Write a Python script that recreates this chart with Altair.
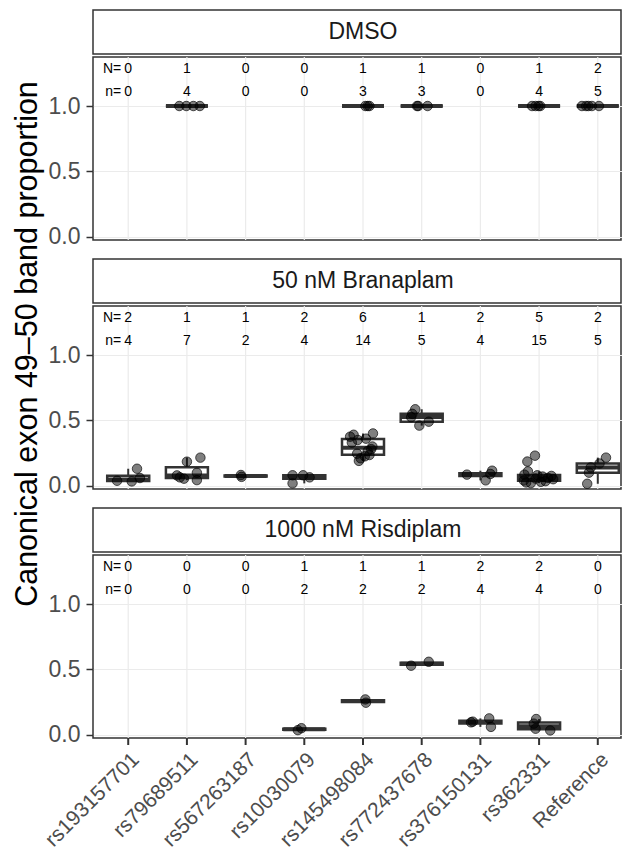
import altair as alt
import pandas as pd

# ---------------- data ----------------
cats = ["rs193157701", "rs79689511", "rs567263187", "rs10030079", "rs145498084",
        "rs772437678", "rs376150131", "rs362331", "Reference"]
treatments = ["DMSO", "50 nM Branaplam", "1000 nM Risdiplam"]

dmso_N = [0, 1, 0, 0, 1, 1, 0, 1, 2]
dmso_n = [0, 4, 0, 0, 3, 3, 0, 4, 5]
bran_N = [2, 1, 1, 2, 6, 1, 2, 5, 2]
bran_n = [4, 7, 2, 4, 14, 5, 4, 15, 5]
risd_N = [0, 0, 0, 1, 1, 1, 2, 2, 0]
risd_n = [0, 0, 0, 2, 2, 2, 4, 4, 0]

dmso_var = (["rs79689511"] * 4 + ["rs145498084"] * 3 + ["rs772437678"] * 3
            + ["rs362331"] * 4 + ["Reference"] * 5)
dmso_val = [1.0] * 19
dmso_jit = [-0.13, -0.01, 0.11, 0.22,
            0.04, 0.08, 0.11,
            -0.08, -0.06, 0.10,
            -0.12, -0.06, -0.01, 0.02,
            -0.27, -0.20, -0.16, -0.10, 0.02]

bran_var = (["rs193157701"] * 4 + ["rs79689511"] * 7 + ["rs567263187"] * 2
            + ["rs10030079"] * 4 + ["rs145498084"] * 14 + ["rs772437678"] * 5
            + ["rs376150131"] * 4 + ["rs362331"] * 15 + ["Reference"] * 5)
bran_val = [0.033, 0.038, 0.059, 0.130,
            0.079, 0.064, 0.054, 0.184, 0.099, 0.043, 0.215,
            0.082, 0.068,
            0.018, 0.080, 0.080, 0.064,
            0.190, 0.210, 0.225, 0.235, 0.245, 0.265, 0.280, 0.300, 0.330, 0.350,
            0.360, 0.375, 0.390, 0.400,
            0.585, 0.550, 0.525, 0.460, 0.490,
            0.085, 0.041, 0.115, 0.090,
            0.020, 0.025, 0.030, 0.035, 0.040, 0.050, 0.055, 0.060, 0.070, 0.075,
            0.080, 0.085, 0.110, 0.185, 0.230,
            0.015, 0.100, 0.140, 0.170, 0.215]
bran_jit = [0.06, -0.19, 0.20, 0.15,
            -0.17, -0.12, -0.05, 0.00, 0.17, 0.17, 0.23,
            -0.08, -0.07,
            -0.20, -0.20, -0.02, 0.09,
            -0.07, -0.04, 0.03, 0.11, -0.10, 0.08, 0.14, 0.16, -0.19, -0.09,
            0.05, -0.22, -0.16, 0.17,
            -0.11, -0.16, -0.18, -0.04, 0.12,
            -0.23, 0.09, 0.20, 0.17,
            -0.14, -0.22, 0.03, 0.11, -0.26, 0.24, -0.06, 0.15, 0.06, 0.21,
            -0.03, -0.25, -0.19, -0.20, -0.07,
            -0.18, -0.15, -0.12, 0.03, 0.14]

risd_var = (["rs10030079"] * 2 + ["rs145498084"] * 2 + ["rs772437678"] * 2
            + ["rs376150131"] * 4 + ["rs362331"] * 4)
risd_val = [0.035, 0.050,
            0.270, 0.245,
            0.528, 0.558,
            0.095, 0.100, 0.125, 0.060,
            0.120, 0.085, 0.046, 0.033]
risd_jit = [-0.11, -0.05,
            0.04, 0.05,
            -0.18, 0.12,
            -0.16, -0.13, 0.15, 0.18,
            -0.05, -0.09, -0.06, 0.19]

y_title = "Canonical exon 49\u201350 band proportion"

# ---------------- style ----------------
FONT = "Liberation Sans"
DARK = "#333333"
GRID = "#EBEBEB"
LABEL = "#4D4D4D"
W = 528          # visible panel width
XR = 540         # x range (the reference panel continues past the right edge)
PH = 183
SH = 44
GAP = 8
TOTAL_H = 3 * (SH + PH) + 2 * 16

xscale = alt.Scale(domain=cats, paddingInner=0, paddingOuter=0.1, range=[0, XR])
yscale = alt.Scale(domain=[-0.025, 1.375], nice=False, zero=False)
no_stroke = alt.ViewBackground(strokeOpacity=0)
xenc = alt.X("variant:N", scale=xscale, axis=None)


def make_panel(vars_, vals, jits, Ns, ns, bottom):
    df = pd.DataFrame({"variant": vars_, "value": vals, "jit": jits})
    cnt = pd.DataFrame({"variant": cats, "N": [str(v) for v in Ns],
                        "n": [str(v) for v in ns]})
    pref = pd.DataFrame({"variant": [cats[0]]})

    yaxis = alt.Axis(title=None, values=[0, 0.5, 1.0], format=".1f", labelFontSize=23,
                     labelColor=LABEL, labelFont=FONT, tickColor=DARK, tickSize=7,
                     tickWidth=1.5, labelPadding=6, domain=False, grid=True,
                     gridColor=GRID, gridWidth=1.2)

    # vertical grid lines at each category
    vgrid = alt.Chart(cnt).mark_rule(color=GRID, strokeWidth=1.2).encode(x=xenc)

    base = alt.Chart(df)
    stats = base.transform_joinaggregate(
        q1="q1(value)", q3="q3(value)", med="median(value)", groupby=["variant"]
    ).transform_calculate(
        lo="datum.q1 - 1.5 * (datum.q3 - datum.q1)",
        hi="datum.q3 + 1.5 * (datum.q3 - datum.q1)",
    ).transform_filter(
        "datum.value >= datum.lo && datum.value <= datum.hi"
    ).transform_aggregate(
        wlo="min(value)", whi="max(value)", q1="min(q1)", q3="min(q3)",
        med="min(med)", groupby=["variant"]
    )
    w_lo = stats.mark_rule(color=DARK, strokeWidth=2).encode(
        x=xenc, y=alt.Y("wlo:Q", scale=yscale, axis=yaxis), y2="q1:Q")
    w_hi = stats.mark_rule(color=DARK, strokeWidth=2).encode(
        x=xenc, y=alt.Y("q3:Q", scale=yscale), y2="whi:Q")
    box = stats.mark_bar(size=42, fill="white", stroke=DARK, strokeWidth=2.5).encode(
        x=xenc, y=alt.Y("q1:Q", scale=yscale), y2="q3:Q")
    med = stats.mark_tick(size=42, thickness=4, color=DARK, opacity=1).encode(
        x=xenc, y=alt.Y("med:Q", scale=yscale))

    pts = base.mark_circle(
        size=90, color="black", fillOpacity=0.5, stroke="black",
        strokeOpacity=0.65, strokeWidth=1,
    ).encode(
        x=xenc,
        xOffset=alt.XOffset("jit:Q", scale=alt.Scale(domain=[-0.5, 0.5])),
        y=alt.Y("value:Q", scale=yscale),
    )
    tN = alt.Chart(cnt).mark_text(fontSize=14, font=FONT, color="black",
                                  baseline="middle").encode(
        x=xenc, y=alt.datum(1.28), text="N:N")
    tn = alt.Chart(cnt).mark_text(fontSize=14, font=FONT, color="black",
                                  baseline="middle").encode(
        x=xenc, y=alt.datum(1.11), text="n:N")
    pN = alt.Chart(pref).mark_text(fontSize=14, font=FONT, color="black",
                                   baseline="middle", align="right", dx=-7).encode(
        x=xenc, y=alt.datum(1.28), text=alt.value("N="))
    pn = alt.Chart(pref).mark_text(fontSize=14, font=FONT, color="black",
                                   baseline="middle", align="right", dx=-7).encode(
        x=xenc, y=alt.datum(1.11), text=alt.value("n="))
    layers = [vgrid, w_lo, w_hi, box, med, pts, tN, tn, pN, pn]
    if bottom:
        xticks = alt.Chart(cnt).mark_rule(color=DARK, strokeWidth=2).encode(
            x=xenc, y=alt.value(PH), y2=alt.value(PH + 7))
        xlabels = alt.Chart(cnt).mark_text(
            fontSize=21, font=FONT, color=LABEL, angle=315, align="right",
            baseline="top").encode(x=xenc, y=alt.value(PH + 11), text="variant:N")
        layers += [xticks, xlabels]
    return alt.layer(*layers).properties(width=W, height=PH)


def make_strip(t):
    return alt.Chart(pd.DataFrame({"t": [t]})).mark_text(
        fontSize=23, font=FONT, color="#1A1A1A", baseline="middle"
    ).encode(text="t:N", x=alt.value(XR / 2), y=alt.value(SH / 2)).properties(
        width=W, height=SH)


p1 = make_panel(dmso_var, dmso_val, dmso_jit, dmso_N, dmso_n, False)
p2 = make_panel(bran_var, bran_val, bran_jit, bran_N, bran_n, False)
p3 = make_panel(risd_var, risd_val, risd_jit, risd_N, risd_n, True)

blocks = [alt.vconcat(make_strip(t), p, spacing=0)
          for t, p in zip(treatments, [p1, p2, p3])]
panels = alt.vconcat(*blocks, spacing=GAP)

title_chart = alt.Chart(pd.DataFrame({"t": [y_title]})).mark_text(
    fontSize=30.5, font=FONT, color="black", angle=270, align="center",
    baseline="alphabetic"
).encode(text="t:N", x=alt.value(28.4), y=alt.value(334)).properties(
    width=30, height=TOTAL_H, view=no_stroke)

chart = alt.hconcat(title_chart, panels, spacing=-4).properties(
    padding={"left": 1, "top": 1, "right": 0, "bottom": 6}
).configure(font=FONT).configure_view(stroke=DARK, strokeWidth=1.5)

chart.save("out.html", embed_options={"renderer": "svg", "actions": False})
